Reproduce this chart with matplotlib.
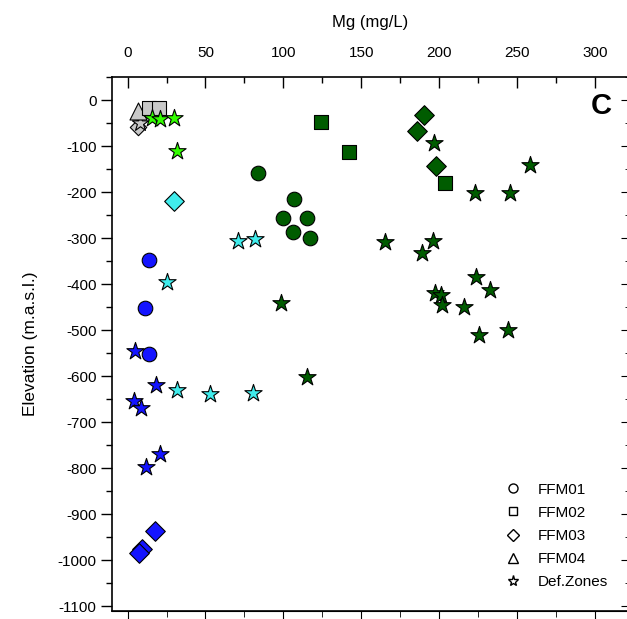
import matplotlib.pyplot as plt
from matplotlib.lines import Line2D
from matplotlib.ticker import MultipleLocator

plt.rcParams['font.family'] = ['Liberation Sans', 'DejaVu Sans']
plt.rcParams['axes.unicode_minus'] = False

GRAY = '#c8c8c8'
LIME = '#33ff00'
CYAN = '#40ecec'
DKGREEN = '#005c00'
BLUE = '#1414ff'

# FFM01 - circles
ffm01_green_mg = [84, 107, 100, 115, 106, 117]
ffm01_green_el = [-158, -215, -256, -256, -286, -299]
ffm01_blue_mg = [13.5, 11, 14]
ffm01_blue_el = [-347, -452, -551]

# FFM02 - squares
ffm02_gray_mg = [13.5, 20]
ffm02_gray_el = [-18, -18]
ffm02_green_mg = [124, 142, 204]
ffm02_green_el = [-48, -113, -180]

# FFM03 - diamonds
ffm03_gray_mg = [6.5]
ffm03_gray_el = [-58]
ffm03_cyan_mg = [30]
ffm03_cyan_el = [-219]
ffm03_green_mg = [190, 186, 198]
ffm03_green_el = [-33, -67, -143]
ffm03_blue_mg = [17.5, 9.5, 7.5]
ffm03_blue_el = [-937, -975, -985]

# FFM04 - triangles
ffm04_gray_mg = [7]
ffm04_gray_el = [-24]

# deformation zones - stars
dz_gray_mg = [8]
dz_gray_el = [-50]
dz_lime_mg = [16, 20.5, 29.5, 31.5]
dz_lime_el = [-39, -41, -39, -111]
dz_cyan_mg = [71, 82, 25, 32, 53, 80.5]
dz_cyan_el = [-306, -302, -395, -629, -638, -636]
dz_green_mg = [196.5, 258, 223, 245.5, 165, 196, 189, 223.5, 232.5, 197, 201,
               202, 216, 225.5, 244, 115, 98.5]
dz_green_el = [-93, -141, -202, -202, -308, -306, -332, -384, -412, -419, -423,
               -445, -449, -510, -499, -601, -440]
dz_blue_mg = [4.5, 18, 4, 8.5, 21, 12]
dz_blue_el = [-545, -620, -653, -670, -770, -798]

fig = plt.figure(figsize=(6.27, 6.19), dpi=100)
ax = fig.add_axes([0.1786, 0.0129, 0.825, 0.8627])

def pts(x, y, marker, color, size):
    ax.scatter(x, y, marker=marker, s=size, c=color, edgecolors='black',
               linewidths=0.8, zorder=3)

pts(ffm03_gray_mg, ffm03_gray_el, 'D', GRAY, 70)
pts(dz_gray_mg, dz_gray_el, '*', GRAY, 150)
pts(ffm04_gray_mg, ffm04_gray_el, '^', GRAY, 150)
pts(ffm02_gray_mg, ffm02_gray_el, 's', GRAY, 110)
pts(dz_lime_mg, dz_lime_el, '*', LIME, 170)

pts(ffm01_green_mg, ffm01_green_el, 'o', DKGREEN, 110)
pts(ffm01_blue_mg, ffm01_blue_el, 'o', BLUE, 110)
pts(ffm02_green_mg, ffm02_green_el, 's', DKGREEN, 90)
pts(ffm03_cyan_mg, ffm03_cyan_el, 'D', CYAN, 100)
pts(ffm03_green_mg, ffm03_green_el, 'D', DKGREEN, 100)
pts(ffm03_blue_mg, ffm03_blue_el, 'D', BLUE, 100)
pts(dz_cyan_mg, dz_cyan_el, '*', CYAN, 170)
pts(dz_green_mg, dz_green_el, '*', DKGREEN, 170)
pts(dz_blue_mg, dz_blue_el, '*', BLUE, 170)

ax.set_xlim(-10, 322)
ax.set_ylim(-1110, 50)

ax.xaxis.set_major_locator(MultipleLocator(50))
ax.xaxis.set_minor_locator(MultipleLocator(25))
ax.yaxis.set_major_locator(MultipleLocator(100))
ax.yaxis.set_minor_locator(MultipleLocator(50))
ax.set_yticks(range(-1100, 1, 100))

ax.xaxis.set_ticks_position('top')
ax.xaxis.set_label_position('top')
ax.tick_params(axis='x', which='both', top=True, bottom=False, direction='in',
               labeltop=True, labelbottom=False, labelsize=11, pad=12)
ax.tick_params(axis='y', which='both', left=True, right=False, direction='out',
               labelsize=11, pad=3)
ax.tick_params(which='major', length=8, width=1)
ax.tick_params(which='minor', length=4, width=1)

# bottom ticks outward, right ticks inward (secondary axes)
bot = ax.secondary_xaxis('bottom')
bot.xaxis.set_major_locator(MultipleLocator(50))
bot.xaxis.set_minor_locator(MultipleLocator(25))
bot.tick_params(which='both', direction='out', labelbottom=False)
bot.tick_params(which='major', length=8)
bot.tick_params(which='minor', length=4)
rt = ax.secondary_yaxis('right')
rt.yaxis.set_major_locator(MultipleLocator(100))
rt.yaxis.set_minor_locator(MultipleLocator(50))
rt.tick_params(which='both', direction='in', labelright=False)
rt.tick_params(which='major', length=6)
rt.tick_params(which='minor', length=3)

for s in ax.spines.values():
    s.set_linewidth(1.2)

ax.set_xlabel('Mg (mg/L)', fontsize=12, labelpad=14)
ax.set_ylabel('Elevation (m.a.s.l.)', fontsize=12.5, labelpad=14)

ax.text(0.945, 0.946, 'C', transform=ax.transAxes, fontsize=21,
        fontweight='bold', ha='center', va='center')

handles = [
    Line2D([], [], marker='o', ls='', mfc='white', mec='black', ms=6.5, label='FFM01'),
    Line2D([], [], marker='s', ls='', mfc='white', mec='black', ms=6, label='FFM02'),
    Line2D([], [], marker='D', ls='', mfc='white', mec='black', ms=6, label='FFM03'),
    Line2D([], [], marker='^', ls='', mfc='white', mec='black', ms=6.5, label='FFM04'),
    Line2D([], [], marker='*', ls='', mfc='white', mec='black', ms=8, label='Def.Zones'),
]
ax.legend(handles=handles, loc='lower right', bbox_to_anchor=(0.985, 0.015),
          frameon=False, fontsize=11, handletextpad=1.0, labelspacing=0.6,
          handlelength=1.2)

fig.savefig('out.png', dpi=100)
